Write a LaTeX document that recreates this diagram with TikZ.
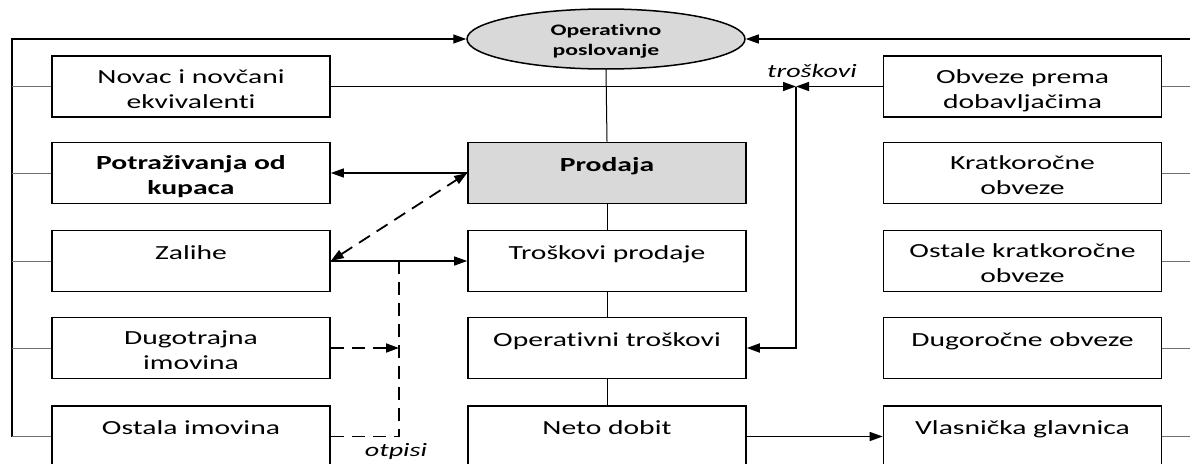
\documentclass[tikz,border=0pt]{standalone}
\usepackage{fontspec}
\setmainfont{Carlito}[Ligatures={NoCommon}]
\usetikzlibrary{arrows.meta,shapes.geometric}
\definecolor{gfill}{HTML}{D9D9D9}
\definecolor{stubc}{HTML}{707070}
\newcommand\sx[1]{\scalebox{1.48}[1]{#1}}
\newcommand\twol[2]{\rule{0pt}{24pt}\sx{#1}\\\sx{#2}\rule[-6pt]{0pt}{6pt}}
\newcommand\twoe[2]{\rule{0pt}{17pt}\sx{#1}\\\sx{#2}\rule[-4pt]{0pt}{4pt}}
\begin{document}
\begin{tikzpicture}[x=1pt,y=-1pt,
  tri/.tip={Triangle[length=13pt,width=9pt]},
  box/.style={draw, line width=1.6pt, minimum width=278pt, minimum height=61pt,
    inner sep=0pt, align=center, font=\fontsize{20}{25}\selectfont},
  one/.style={text height=8pt, text depth=12pt},
  bf/.style={font=\fontsize{20}{25}\selectfont\bfseries},
  ell/.style={ellipse, draw, line width=1.5pt, fill=gfill, minimum width=278pt,
    minimum height=60pt, inner sep=0pt, align=center,
    font=\fontsize{16}{20}\selectfont\bfseries},
  conn/.style={line width=1.4pt},
  arr/.style={conn, -tri},
  bus/.style={line width=1.3pt},
  stub/.style={line width=0.9pt, draw=stubc},
  vline/.style={line width=1pt},
  dashln/.style={line width=1.8pt, dash pattern=on 13pt off 8pt},
  lbl/.style={font=\fontsize{19}{23}\selectfont\itshape, inner sep=0pt, anchor=base}
]
\useasboundingbox (0,0) rectangle (1190,463);
\clip (0,0) rectangle (1190,463);

% ellipse
\node[ell] (op) at (606,39) {\twoe{Operativno}{poslovanje}};

% left column
\node[box] (novac) at (191,86.5) {\twol{Novac i novčani}{ekvivalenti}};
\node[box,bf] (potr) at (191,173) {\twol{Potraživanja od}{kupaca}};
\node[box,one] (zal) at (191,261) {\sx{Zalihe}};
\node[box] (dug) at (191,348) {\twol{Dugotrajna}{imovina}};
\node[box,one] (ost) at (191,436.5) {\sx{Ostala imovina}};

% center column
\node[box,one,bf,fill=gfill] (prod) at (607,173) {\sx{Prodaja}};
\node[box,one] (tp) at (607,261) {\sx{Troškovi prodaje}};
\node[box,one] (ot) at (607,348) {\sx{Operativni troškovi}};
\node[box,one] (neto) at (607,436.5) {\sx{Neto dobit}};

% right column
\node[box] (obv) at (1022.5,86.5) {\twol{Obveze prema}{dobavljačima}};
\node[box] (kr) at (1022.5,173) {\twol{Kratkoročne}{obveze}};
\node[box] (okr) at (1022.5,261) {\twol{Ostale kratkoročne}{obveze}};
\node[box,one] (dor) at (1022.5,348) {\sx{Dugoročne obveze}};
\node[box,one] (vla) at (1022.5,436.5) {\sx{Vlasnička glavnica}};

% buses
\coordinate (lbTop) at (12,39);
\coordinate (lbBot) at (12,436.5);
\coordinate (rbTop) at (1190,39);
\draw[bus, -tri] (lbBot) -- (lbTop) -- (op.west);
\draw[bus, -tri] (rbTop) -- (op.east);
\foreach \n in {novac,potr,zal,dug,ost}{
  \draw[stub] (\n.west) -- (\n.west -| lbTop);
}
\foreach \n in {obv,kr,okr,dor,vla}{
  \draw[stub] (\n.east) -- (\n.east -| rbTop);
}

% center vertical
\draw[vline] (op.south) -- (prod.north);
\draw[vline] (prod.south) -- (tp.north);
\draw[vline] (tp.south) -- (ot.north);
\draw[vline] (ot.south) -- (neto.north);

% troskovi junction
\coordinate (tj) at (796,86.5);
\draw[arr] (novac.east) -- (tj);
\draw[arr] (obv.west) -- (tj);
\draw[line width=1.8pt, -tri] (tj) -- (tj |- ot.east) -- (ot.east);
\node[lbl] (trl) at (812,77) {\sx{troškovi}};

% prodaja links
\draw[arr] (prod.west) -- (potr.east);
\draw[dashln, tri-tri] (zal.east) -- (prod.west);
\draw[arr] (zal.east) -- (tp.west);

% otpisi
\coordinate (dj) at (399,262);
\draw[dashln] (ost.east) -- (ost.east -| dj) -- (dj);
\draw[dashln, -tri] (dug.east) -- (dug.east -| dj);
\node[lbl] (otl) at (396,456) {\sx{otpisi}};

% neto -> vlasnicka
\draw[arr] (neto.east) -- (vla.west);
\end{tikzpicture}
\end{document}
